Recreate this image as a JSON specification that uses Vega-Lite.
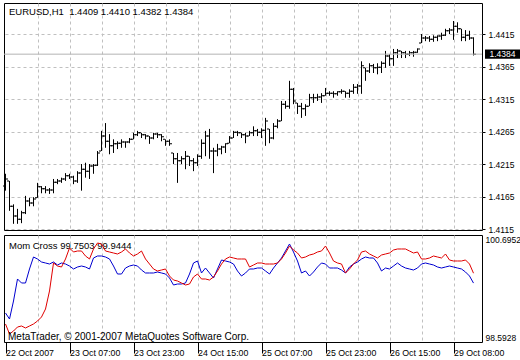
{
"$schema":"https://vega.github.io/schema/vega-lite/v6.json",
"padding":{"left":2,"top":2,"right":0,"bottom":0},
"background":"white",
"bounds":"flush",
"spacing":5,
"config":{"view":{"stroke":"black","strokeWidth":1},"font":"Liberation Sans","text":{"font":"Liberation Sans"},"axis":{"labelOverlap":false}},
"datasets":{
"bars":[
{"i":0,"o":1.4181,"h":1.4200,"l":1.4174,"c":1.4192,"r":98.9465,"b":99.1626},
{"i":1,"o":1.4189,"h":1.4189,"l":1.4143,"c":1.4150,"r":98.7500,"b":99.0447},
{"i":2,"o":1.4150,"h":1.4153,"l":1.4123,"c":1.4135,"r":98.8089,"b":99.3984},
{"i":3,"o":1.4135,"h":1.4146,"l":1.4123,"c":1.4130,"r":98.8875,"b":99.8307},
{"i":4,"o":1.4130,"h":1.4143,"l":1.4124,"c":1.4140,"r":98.9072,"b":99.7521},
{"i":5,"o":1.4140,"h":1.4166,"l":1.4138,"c":1.4158,"r":98.8679,"b":99.7521},
{"i":6,"o":1.4158,"h":1.4163,"l":1.4150,"c":1.4155,"r":98.9072,"b":100.0272},
{"i":7,"o":1.4155,"h":1.4164,"l":1.4150,"c":1.4161,"r":98.9465,"b":100.2630},
{"i":8,"o":1.4163,"h":1.4186,"l":1.4163,"c":1.4180,"r":99.0054,"b":100.2237},
{"i":9,"o":1.4180,"h":1.4181,"l":1.4170,"c":1.4177,"r":99.0840,"b":100.1647},
{"i":10,"o":1.4177,"h":1.4181,"l":1.4170,"c":1.4175,"r":99.2412,"b":100.1451},
{"i":11,"o":1.4175,"h":1.4178,"l":1.4169,"c":1.4175,"r":99.5949,"b":100.1254},
{"i":12,"o":1.4175,"h":1.4192,"l":1.4170,"c":1.4187,"r":100.1451,"b":100.1647},
{"i":13,"o":1.4187,"h":1.4192,"l":1.4184,"c":1.4189,"r":100.0861,"b":100.1058},
{"i":14,"o":1.4189,"h":1.4194,"l":1.4186,"c":1.4192,"r":100.0665,"b":100.1451},
{"i":15,"o":1.4192,"h":1.4201,"l":1.4189,"c":1.4197,"r":100.2237,"b":100.1254},
{"i":16,"o":1.4197,"h":1.4200,"l":1.4192,"c":1.4195,"r":100.4398,"b":100.0861},
{"i":17,"o":1.4195,"h":1.4197,"l":1.4184,"c":1.4189,"r":100.3612,"b":100.0272},
{"i":18,"o":1.4189,"h":1.4204,"l":1.4186,"c":1.4201,"r":100.3809,"b":100.0665},
{"i":19,"o":1.4201,"h":1.4215,"l":1.4174,"c":1.4207,"r":100.3809,"b":100.0861},
{"i":20,"o":1.4207,"h":1.4217,"l":1.4194,"c":1.4204,"r":100.2826,"b":100.0665},
{"i":21,"o":1.4204,"h":1.4215,"l":1.4192,"c":1.4212,"r":100.2237,"b":100.0272},
{"i":22,"o":1.4212,"h":1.4215,"l":1.4200,"c":1.4213,"r":100.4202,"b":100.2433},
{"i":23,"o":1.4213,"h":1.4235,"l":1.4212,"c":1.4232,"r":100.5381,"b":100.2826},
{"i":24,"o":1.4235,"h":1.4266,"l":1.4235,"c":1.4258,"r":100.5184,"b":100.2826},
{"i":25,"o":1.4258,"h":1.4278,"l":1.4240,"c":1.4250,"r":100.3809,"b":100.2630},
{"i":26,"o":1.4250,"h":1.4261,"l":1.4230,"c":1.4243,"r":100.3612,"b":100.2237},
{"i":27,"o":1.4243,"h":1.4253,"l":1.4232,"c":1.4246,"r":100.3416,"b":100.0861},
{"i":28,"o":1.4246,"h":1.4250,"l":1.4238,"c":1.4247,"r":100.3219,"b":99.9289},
{"i":29,"o":1.4247,"h":1.4253,"l":1.4240,"c":1.4249,"r":100.3612,"b":99.9289},
{"i":30,"o":1.4249,"h":1.4250,"l":1.4240,"c":1.4249,"r":100.4202,"b":100.0468},
{"i":31,"o":1.4249,"h":1.4255,"l":1.4247,"c":1.4253,"r":100.3416,"b":100.0861},
{"i":32,"o":1.4253,"h":1.4263,"l":1.4253,"c":1.4260,"r":100.2826,"b":100.1058},
{"i":33,"o":1.4260,"h":1.4266,"l":1.4258,"c":1.4263,"r":100.3219,"b":100.0861},
{"i":34,"o":1.4263,"h":1.4263,"l":1.4255,"c":1.4260,"r":100.3809,"b":100.0075},
{"i":35,"o":1.4260,"h":1.4261,"l":1.4253,"c":1.4258,"r":100.2237,"b":99.9486},
{"i":36,"o":1.4258,"h":1.4258,"l":1.4246,"c":1.4255,"r":100.1254,"b":99.9486},
{"i":37,"o":1.4255,"h":1.4263,"l":1.4253,"c":1.4261,"r":100.0272,"b":99.9486},
{"i":38,"o":1.4261,"h":1.4263,"l":1.4255,"c":1.4260,"r":99.9879,"b":99.9682},
{"i":39,"o":1.4260,"h":1.4261,"l":1.4250,"c":1.4257,"r":100.0075,"b":99.9486},
{"i":40,"o":1.4253,"h":1.4253,"l":1.4243,"c":1.4250,"r":100.0272,"b":99.9289},
{"i":41,"o":1.4250,"h":1.4253,"l":1.4243,"c":1.4246,"r":99.8896,"b":99.8503},
{"i":42,"o":1.4232,"h":1.4232,"l":1.4215,"c":1.4223,"r":99.8110,"b":99.7128},
{"i":43,"o":1.4223,"h":1.4232,"l":1.4186,"c":1.4220,"r":99.7914,"b":99.7324},
{"i":44,"o":1.4220,"h":1.4227,"l":1.4215,"c":1.4223,"r":99.7521,"b":99.7324},
{"i":45,"o":1.4223,"h":1.4235,"l":1.4207,"c":1.4227,"r":99.7128,"b":99.7521},
{"i":46,"o":1.4227,"h":1.4227,"l":1.4212,"c":1.4220,"r":99.7324,"b":99.9289},
{"i":47,"o":1.4220,"h":1.4224,"l":1.4204,"c":1.4217,"r":99.8700,"b":100.1451},
{"i":48,"o":1.4217,"h":1.4230,"l":1.4212,"c":1.4227,"r":99.9289,"b":100.1844},
{"i":49,"o":1.4227,"h":1.4253,"l":1.4223,"c":1.4247,"r":99.8307,"b":99.9486},
{"i":50,"o":1.4247,"h":1.4266,"l":1.4227,"c":1.4258,"r":99.8307,"b":100.0468},
{"i":51,"o":1.4258,"h":1.4269,"l":1.4223,"c":1.4235,"r":99.8110,"b":99.9486},
{"i":52,"o":1.4235,"h":1.4240,"l":1.4201,"c":1.4235,"r":99.8700,"b":99.8503},
{"i":53,"o":1.4235,"h":1.4246,"l":1.4227,"c":1.4238,"r":99.9879,"b":100.0272},
{"i":54,"o":1.4238,"h":1.4243,"l":1.4230,"c":1.4241,"r":100.1254,"b":100.2040},
{"i":55,"o":1.4241,"h":1.4247,"l":1.4232,"c":1.4246,"r":100.2237,"b":100.1844},
{"i":56,"o":1.4247,"h":1.4258,"l":1.4247,"c":1.4255,"r":100.2630,"b":100.1647},
{"i":57,"o":1.4255,"h":1.4266,"l":1.4255,"c":1.4264,"r":100.2433,"b":100.1254},
{"i":58,"o":1.4264,"h":1.4266,"l":1.4258,"c":1.4263,"r":100.2237,"b":99.9879},
{"i":59,"o":1.4263,"h":1.4263,"l":1.4255,"c":1.4260,"r":100.2237,"b":99.8896},
{"i":60,"o":1.4260,"h":1.4263,"l":1.4247,"c":1.4258,"r":100.2237,"b":99.9486},
{"i":61,"o":1.4258,"h":1.4266,"l":1.4258,"c":1.4263,"r":100.0665,"b":100.0272},
{"i":62,"o":1.4263,"h":1.4273,"l":1.4258,"c":1.4266,"r":100.1058,"b":100.0272},
{"i":63,"o":1.4266,"h":1.4269,"l":1.4258,"c":1.4264,"r":100.1451,"b":100.0468},
{"i":64,"o":1.4264,"h":1.4270,"l":1.4255,"c":1.4267,"r":100.1451,"b":100.0468},
{"i":65,"o":1.4267,"h":1.4286,"l":1.4243,"c":1.4281,"r":100.1254,"b":99.9879},
{"i":66,"o":1.4269,"h":1.4269,"l":1.4247,"c":1.4255,"r":100.1254,"b":99.9289},
{"i":67,"o":1.4255,"h":1.4278,"l":1.4253,"c":1.4273,"r":100.1254,"b":100.0468},
{"i":68,"o":1.4273,"h":1.4284,"l":1.4270,"c":1.4281,"r":100.1451,"b":100.1451},
{"i":69,"o":1.4281,"h":1.4312,"l":1.4281,"c":1.4307,"r":100.2237,"b":100.2433},
{"i":70,"o":1.4307,"h":1.4312,"l":1.4300,"c":1.4304,"r":100.3416,"b":100.3809},
{"i":71,"o":1.4304,"h":1.4343,"l":1.4300,"c":1.4330,"r":100.4791,"b":100.5184},
{"i":72,"o":1.4330,"h":1.4332,"l":1.4307,"c":1.4312,"r":100.4005,"b":100.3612},
{"i":73,"o":1.4309,"h":1.4309,"l":1.4292,"c":1.4304,"r":100.3416,"b":100.1844},
{"i":74,"o":1.4304,"h":1.4309,"l":1.4286,"c":1.4300,"r":100.2433,"b":99.9486},
{"i":75,"o":1.4300,"h":1.4307,"l":1.4289,"c":1.4304,"r":100.2630,"b":99.9879},
{"i":76,"o":1.4304,"h":1.4323,"l":1.4304,"c":1.4317,"r":100.3023,"b":99.8896},
{"i":77,"o":1.4317,"h":1.4323,"l":1.4309,"c":1.4317,"r":100.3219,"b":99.9682},
{"i":78,"o":1.4317,"h":1.4323,"l":1.4312,"c":1.4318,"r":100.3612,"b":100.0665},
{"i":79,"o":1.4318,"h":1.4324,"l":1.4309,"c":1.4320,"r":100.3809,"b":100.1451},
{"i":80,"o":1.4320,"h":1.4332,"l":1.4320,"c":1.4324,"r":100.4791,"b":100.1254},
{"i":81,"o":1.4324,"h":1.4327,"l":1.4320,"c":1.4324,"r":100.3416,"b":100.0468},
{"i":82,"o":1.4324,"h":1.4327,"l":1.4317,"c":1.4323,"r":100.1844,"b":100.0468},
{"i":83,"o":1.4323,"h":1.4327,"l":1.4320,"c":1.4326,"r":100.1451,"b":100.0468},
{"i":84,"o":1.4326,"h":1.4330,"l":1.4323,"c":1.4327,"r":100.1254,"b":100.0075},
{"i":85,"o":1.4327,"h":1.4327,"l":1.4317,"c":1.4324,"r":99.9486,"b":99.9486},
{"i":86,"o":1.4324,"h":1.4330,"l":1.4317,"c":1.4327,"r":100.0272,"b":100.0665},
{"i":87,"o":1.4327,"h":1.4338,"l":1.4323,"c":1.4333,"r":100.1254,"b":100.1254},
{"i":88,"o":1.4333,"h":1.4338,"l":1.4323,"c":1.4335,"r":100.2040,"b":100.1647},
{"i":89,"o":1.4335,"h":1.4373,"l":1.4323,"c":1.4366,"r":100.3612,"b":100.2237},
{"i":90,"o":1.4363,"h":1.4363,"l":1.4343,"c":1.4358,"r":100.3809,"b":100.2630},
{"i":91,"o":1.4358,"h":1.4370,"l":1.4355,"c":1.4366,"r":100.3219,"b":100.2433},
{"i":92,"o":1.4366,"h":1.4369,"l":1.4355,"c":1.4363,"r":100.2826,"b":100.2433},
{"i":93,"o":1.4363,"h":1.4370,"l":1.4353,"c":1.4364,"r":100.2433,"b":100.1451},
{"i":94,"o":1.4364,"h":1.4373,"l":1.4355,"c":1.4370,"r":100.3023,"b":99.9879},
{"i":95,"o":1.4370,"h":1.4389,"l":1.4363,"c":1.4381,"r":100.3219,"b":100.0468},
{"i":96,"o":1.4381,"h":1.4384,"l":1.4366,"c":1.4377,"r":100.3416,"b":100.0272},
{"i":97,"o":1.4377,"h":1.4392,"l":1.4366,"c":1.4386,"r":100.4005,"b":100.0861},
{"i":98,"o":1.4386,"h":1.4392,"l":1.4378,"c":1.4389,"r":100.4202,"b":100.1451},
{"i":99,"o":1.4389,"h":1.4389,"l":1.4378,"c":1.4386,"r":100.4202,"b":100.0861},
{"i":100,"o":1.4386,"h":1.4389,"l":1.4378,"c":1.4384,"r":100.4202,"b":100.0468},
{"i":101,"o":1.4384,"h":1.4389,"l":1.4381,"c":1.4386,"r":100.3809,"b":100.0272},
{"i":102,"o":1.4386,"h":1.4389,"l":1.4380,"c":1.4387,"r":100.3416,"b":100.0075},
{"i":103,"o":1.4387,"h":1.4393,"l":1.4386,"c":1.4392,"r":100.3612,"b":100.0468},
{"i":104,"o":1.4401,"h":1.4415,"l":1.4401,"c":1.4409,"r":100.2237,"b":100.1254},
{"i":105,"o":1.4409,"h":1.4412,"l":1.4404,"c":1.4409,"r":100.2237,"b":100.1451},
{"i":106,"o":1.4409,"h":1.4412,"l":1.4403,"c":1.4407,"r":100.2433,"b":100.1254},
{"i":107,"o":1.4407,"h":1.4413,"l":1.4403,"c":1.4410,"r":100.2826,"b":100.1058},
{"i":108,"o":1.4410,"h":1.4413,"l":1.4404,"c":1.4412,"r":100.2630,"b":100.0665},
{"i":109,"o":1.4412,"h":1.4417,"l":1.4406,"c":1.4413,"r":100.2433,"b":100.0468},
{"i":110,"o":1.4413,"h":1.4423,"l":1.4412,"c":1.4420,"r":100.3219,"b":100.0665},
{"i":111,"o":1.4420,"h":1.4424,"l":1.4415,"c":1.4421,"r":100.2040,"b":100.0861},
{"i":112,"o":1.4421,"h":1.4435,"l":1.4406,"c":1.4427,"r":100.1844,"b":100.0665},
{"i":113,"o":1.4427,"h":1.4433,"l":1.4417,"c":1.4423,"r":100.1844,"b":100.0468},
{"i":114,"o":1.4423,"h":1.4423,"l":1.4404,"c":1.4410,"r":100.1844,"b":100.0272},
{"i":115,"o":1.4410,"h":1.4421,"l":1.4404,"c":1.4413,"r":100.2040,"b":99.9682},
{"i":116,"o":1.4413,"h":1.4420,"l":1.4406,"c":1.4409,"r":100.1254,"b":99.8896},
{"i":117,"o":1.4409,"h":1.4410,"l":1.4382,"c":1.4384,"r":99.9444,"b":99.7503}
],
"last":[{"price":1.4384,"label":"1.4384","title":"EURUSD,H1 \u00a01.4409 1.4410 1.4382 1.4384","top":1.44627}],
"mom":[{"title":"Mom Cross 99.7503 99.9444","copy":"MetaTrader, © 2001-2007 MetaQuotes Software Corp.","top":100.6952,"bottom":98.5928}]
},
"vconcat":[
{
"width":478,"height":227,
"layer":[
{"data":{"name":"bars"},
 "mark":{"type":"rule","color":"black","strokeWidth":1},
 "encoding":{
  "x":{"field":"i","type":"quantitative","scale":{"domain":[-0.375,119.125],"nice":false,"zero":false},
       "axis":{"values":[8,16,24,32,40,48,56,64,72,80,88,96,104,112],"tickCount":100,"grid":true,"gridDash":[3,3],"gridColor":"#c0c0c0","gridWidth":1,"labels":false,"ticks":false,"domain":false,"title":null}},
  "y":{"field":"l","type":"quantitative","scale":{"domain":[1.41135,1.44627],"nice":false,"zero":false},
       "axis":{"orient":"right","values":[1.4115,1.4165,1.4215,1.4265,1.4315,1.4365,1.4415],"tickCount":100,"format":".4f","grid":true,"gridDash":[3,3],"gridColor":"#c0c0c0","tickSize":3,"tickColor":"black","domain":false,"labelPadding":3,"labelFontSize":8.5,"labelColor":"black","labelFont":"Liberation Sans","labelOverlap":false,"labelFlush":false,"title":null}},
  "y2":{"field":"h"}}},
{"data":{"name":"bars"},
 "mark":{"type":"tick","orient":"horizontal","size":2,"thickness":1,"xOffset":-1.5,"color":"black","opacity":1},
 "encoding":{"x":{"field":"i","type":"quantitative"},"y":{"field":"o","type":"quantitative"}}},
{"data":{"name":"bars"},
 "mark":{"type":"tick","orient":"horizontal","size":2,"thickness":1,"xOffset":1.5,"color":"black","opacity":1},
 "encoding":{"x":{"field":"i","type":"quantitative"},"y":{"field":"c","type":"quantitative"}}},
{"data":{"name":"last"},
 "mark":{"type":"rule","color":"#b4b4b4","strokeWidth":1},
 "encoding":{"y":{"field":"price","type":"quantitative"}}},
{"data":{"name":"last"},
 "mark":{"type":"point","shape":"M-1,-0.26L1,-0.26L1,0.26L-1,0.26Z","size":1225,"filled":true,"color":"black","opacity":1,"strokeWidth":0},
 "encoding":{"x":{"datum":124.25,"type":"quantitative"},"y":{"field":"price","type":"quantitative"}}},
{"data":{"name":"last"},
 "mark":{"type":"text","color":"white","fontSize":8.5,"align":"center","baseline":"middle"},
 "encoding":{"x":{"datum":124.25,"type":"quantitative"},"y":{"field":"price","type":"quantitative"},"text":{"field":"label"}}},
{"data":{"name":"last"},
 "mark":{"type":"text","color":"black","fontSize":9.5,"align":"left","baseline":"alphabetic","dy":12},
 "encoding":{"x":{"datum":0.875,"type":"quantitative"},"y":{"field":"top","type":"quantitative"},"text":{"field":"title"}}}
]
},
{
"width":478,"height":107,
"layer":[
{"data":{"name":"mom"},
 "mark":{"type":"text","color":"black","fontSize":9.5,"align":"left","baseline":"alphabetic","dy":14},
 "encoding":{"x":{"datum":0.875,"type":"quantitative","scale":{"domain":[-0.375,119.125],"nice":false,"zero":false},
   "axis":{"values":[0,8,16,24,32,40,48,56,64,72,80,88,96,104,112],"tickCount":100,"grid":true,"gridDash":[3,3],"gridColor":"#c0c0c0",
     "gridOpacity":{"condition":{"test":"datum.value == 0","value":0},"value":1},
     "tickOpacity":{"condition":{"test":"datum.value % 16 == 0","value":1},"value":0},
     "tickSize":11,"tickColor":"black","domain":false,"title":null,
     "labelExpr":"datum.value % 16 == 0 ? ['22 Oct 2007','23 Oct 07:00','23 Oct 23:00','24 Oct 15:00','25 Oct 07:00','25 Oct 23:00','26 Oct 15:00','29 Oct 08:00'][datum.value/16] : ''",
     "labelAlign":"left","labelDx":2,"labelPadding":2,"labelBaseline":"alphabetic","labelFlush":false,"labelOverlap":false,"labelFontSize":8.8,"labelColor":"black","labelFont":"Liberation Sans"}},
  "y":{"field":"top","type":"quantitative","scale":{"domain":[98.5928,100.6952],"nice":false,"zero":false},
   "axis":{"orient":"right","values":[98.5928,100.6952],"format":".4f","grid":false,"ticks":false,"domain":false,"labelPadding":3,"labelFlush":true,"labelFlushOffset":0,"labelOverlap":false,"labelFontSize":8.5,"labelColor":"black","labelFont":"Liberation Sans","title":null}},
  "text":{"field":"title"}}},
{"data":{"name":"bars"},
 "mark":{"type":"line","color":"#0000d0","strokeWidth":1,"interpolate":"linear"},
 "encoding":{"x":{"field":"i","type":"quantitative"},"y":{"field":"b","type":"quantitative"}}},
{"data":{"name":"bars"},
 "mark":{"type":"line","color":"#e00000","strokeWidth":1,"interpolate":"linear"},
 "encoding":{"x":{"field":"i","type":"quantitative"},"y":{"field":"r","type":"quantitative"}}},
{"data":{"name":"mom"},
 "mark":{"type":"text","color":"black","fontSize":10,"align":"left","baseline":"alphabetic","dy":-2},
 "encoding":{"x":{"datum":0.625,"type":"quantitative"},"y":{"field":"bottom","type":"quantitative"},"text":{"field":"copy"}}}
]
}
]
}
